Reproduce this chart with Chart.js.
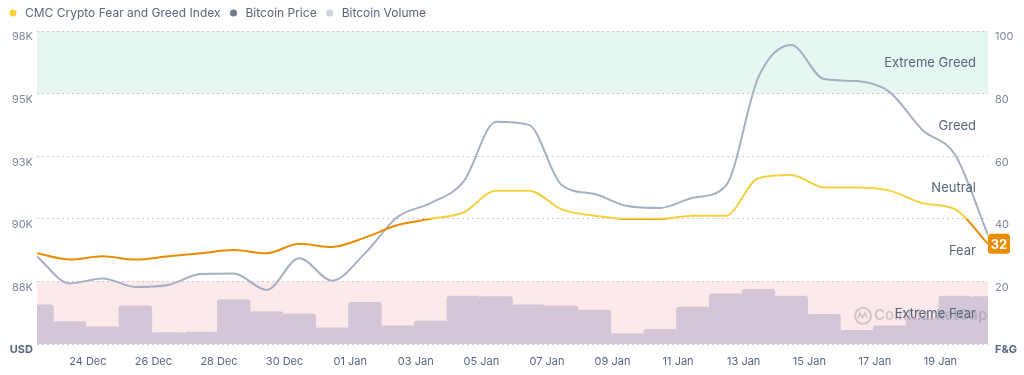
<!DOCTYPE html>
<html>
<head>
<meta charset="utf-8">
<script src="https://cdn.jsdelivr.net/npm/chart.js@4.4.1/dist/chart.umd.min.js"></script>
<style>
  html, body { margin: 0; padding: 0; background: #fff; }
  #wrap { width: 1024px; height: 375px; }
</style>
</head>
<body>
<div id="wrap"><canvas id="fgChart" width="1024" height="375"></canvas></div>
<script>
// Days on the x axis (one sample per day, 22 Dec -> 20 Jan)
const dayLabels = ["22 Dec", "23 Dec", "24 Dec", "25 Dec", "26 Dec", "27 Dec", "28 Dec", "29 Dec", "30 Dec", "31 Dec",
  "01 Jan", "02 Jan", "03 Jan", "04 Jan", "05 Jan", "06 Jan", "07 Jan", "08 Jan", "09 Jan", "10 Jan",
  "11 Jan", "12 Jan", "13 Jan", "14 Jan", "15 Jan", "16 Jan", "17 Jan", "18 Jan", "19 Jan", "20 Jan"];
const tickDays = [2, 4, 6, 8, 10, 12, 14, 16, 18, 20, 22, 24, 26, 28];
const sampleOffset = 0.45; // samples are taken late morning, not at midnight

const fearGreed = [29, 27, 28, 27, 28, 29, 30, 29, 32, 31, 34, 38, 40, 42, 49, 49, 43, 41, 40, 40,
  41, 41, 53, 54, 50, 50, 49, 45, 43, 32];
const btcPrice = [88890, 87820, 88020, 87680, 87760, 88200, 88220, 87560, 88820, 87930,
  89020, 90480, 91030, 91870, 94280, 94150, 91750, 91390, 90910, 90830,
  91240, 91710, 96060, 97340, 95980, 95900, 95460, 93950, 92950, 89750];
// volume in billions USD
const btcVolume = [75, 43, 33, 73, 22, 23, 85, 62, 58, 31, 80, 35, 44, 92, 91, 75, 73, 65, 20, 28,
  71, 96, 105, 92, 57, 26, 35, 49, 92, 91];

// sentiment zones on the F&G scale
const zoneNames = ["Extreme Fear", "Fear", "Neutral", "Greed", "Extreme Greed"];
const zoneBounds = [0, 20, 40, 60, 80, 100];

const YELLOW = "#f3d23e";
const ORANGE = "#ea8c00";
const PRICE_LINE = "#a6b0c3";
const VOLUME_BAR = "#d3c6d6";
const TEXT = "#58667e";
const FONT = "Inter, 'Noto Sans', sans-serif";

const points = (arr) => arr.map((v, i) => ({ x: i + sampleOffset, y: v }));

// make the legend block a bit taller so the plot starts lower
const legendSpacer = {
  id: "legendSpacer",
  beforeInit(chart) {
    const fit = chart.legend.fit;
    chart.legend.fit = function () {
      fit.call(this);
      this.height += 2;
    };
  }
};

// green / red zones behind everything
const zoneBands = {
  id: "zoneBands",
  beforeDraw(chart) {
    const { ctx, chartArea } = chart;
    const y = chart.scales.yFg;
    ctx.save();
    ctx.fillStyle = "#e6f7f1";
    ctx.fillRect(chartArea.left, y.getPixelForValue(100), chartArea.width, y.getPixelForValue(80) - y.getPixelForValue(100));
    ctx.fillStyle = "#fde9ea";
    ctx.fillRect(chartArea.left, y.getPixelForValue(20), chartArea.width, y.getPixelForValue(0) - y.getPixelForValue(20));
    ctx.restore();
  }
};

// watermark, zone names and the current value badge
const overlays = {
  id: "overlays",
  afterDatasetsDraw(chart) {
    const { ctx, chartArea } = chart;
    const y = chart.scales.yFg;
    ctx.save();

    // faint CoinMarketCap mark
    const wy = y.getPixelForValue(9);
    const cx = chartArea.right - 125;
    ctx.globalAlpha = 0.35;
    ctx.strokeStyle = "#7f7f90";
    ctx.lineWidth = 2;
    ctx.beginPath();
    ctx.arc(cx, wy, 8, 0, Math.PI * 2);
    ctx.stroke();
    ctx.lineWidth = 1.6;
    ctx.beginPath();
    ctx.moveTo(cx - 5, wy + 3);
    ctx.lineTo(cx - 3, wy - 3);
    ctx.lineTo(cx - 0.5, wy + 2);
    ctx.lineTo(cx + 2, wy - 3);
    ctx.lineTo(cx + 4, wy + 2);
    ctx.stroke();
    ctx.fillStyle = "#7f7f90";
    ctx.font = "600 15px " + FONT;
    ctx.textAlign = "left";
    ctx.textBaseline = "middle";
    ctx.fillText("CoinMarketCap", chartArea.right - 114, wy);
    ctx.globalAlpha = 1;

    ctx.fillStyle = TEXT;
    ctx.font = "13px " + FONT;
    ctx.textAlign = "right";
    zoneNames.forEach((name, i) => {
      const mid = (zoneBounds[i] + zoneBounds[i + 1]) / 2;
      ctx.fillText(name, chartArea.right - 12, y.getPixelForValue(mid) + 1);
    });

    // badge with the latest index value
    const meta = chart.getDatasetMeta(0);
    const last = meta.data[meta.data.length - 1];
    const bx = last.x, by = last.y;
    ctx.fillStyle = ORANGE;
    ctx.beginPath();
    ctx.roundRect(bx, by - 10, 22, 20, 3);
    ctx.fill();
    ctx.fillStyle = "#fff";
    ctx.font = "bold 13px " + FONT;
    ctx.textAlign = "center";
    ctx.fillText(String(fearGreed[fearGreed.length - 1]), bx + 11, by + 1);
    ctx.restore();
  }
};

const legendColors = [YELLOW, "#707b90", "#cfd5e0"];

const fgLineColor = (c) => {
  const chart = c.chart;
  const area = chart.chartArea;
  if (!area) return YELLOW;
  const y40 = chart.scales.yFg.getPixelForValue(40);
  const t = Math.min(1, Math.max(0, (y40 - area.top) / (area.bottom - area.top)));
  const g = chart.ctx.createLinearGradient(0, area.top, 0, area.bottom);
  g.addColorStop(0, YELLOW);
  g.addColorStop(t, YELLOW);
  g.addColorStop(t, ORANGE);
  g.addColorStop(1, ORANGE);
  return g;
};

new Chart(document.getElementById("fgChart"), {
  data: {
    datasets: [
      {
        type: "line",
        label: "CMC Crypto Fear and Greed Index",
        data: points(fearGreed),
        yAxisID: "yFg",
        borderColor: fgLineColor,
        backgroundColor: YELLOW,
        borderWidth: 2,
        pointRadius: 0,
        cubicInterpolationMode: "monotone"
      },
      {
        type: "line",
        label: "Bitcoin Price",
        data: points(btcPrice),
        yAxisID: "yPrice",
        borderColor: PRICE_LINE,
        backgroundColor: PRICE_LINE,
        borderWidth: 2,
        pointRadius: 0,
        cubicInterpolationMode: "monotone"
      },
      {
        type: "bar",
        label: "Bitcoin Volume",
        data: points(btcVolume),
        yAxisID: "yVol",
        backgroundColor: VOLUME_BAR,
        barPercentage: 1,
        categoryPercentage: 1,
        borderRadius: { topLeft: 3, topRight: 3 },
        borderSkipped: "start",
        clip: 0
      }
    ]
  },
  options: {
    responsive: false,
    animation: false,
    layout: { padding: 0 },
    plugins: {
      tooltip: { enabled: false },
      legend: {
        align: "start",
        labels: {
          usePointStyle: true,
          pointStyle: "circle",
          boxWidth: 12,
          boxHeight: 5,
          padding: 7,
          color: TEXT,
          font: { family: FONT, size: 12 },
          generateLabels(chart) {
            const items = Chart.defaults.plugins.legend.labels.generateLabels(chart);
            items.forEach((it, i) => {
              it.fillStyle = legendColors[i];
              it.strokeStyle = legendColors[i];
              it.lineWidth = 0;
              it.pointStyle = "circle";
            });
            return items;
          }
        }
      }
    },
    scales: {
      x: {
        type: "linear",
        offset: false,
        min: sampleOffset,
        max: fearGreed.length - 1 + sampleOffset,
        grid: { display: false, drawTicks: false, offset: false },
        border: { display: false },
        afterBuildTicks(scale) {
          scale.ticks = tickDays.map((d) => ({ value: d }));
        },
        afterFit(scale) { scale.height = 31; },
        ticks: {
          autoSkip: false,
          maxRotation: 0,
          padding: 11,
          color: TEXT,
          font: { family: FONT, size: 11 },
          callback: (v) => dayLabels[v]
        }
      },
      yPrice: {
        position: "left",
        min: 85400,
        max: 97900,
        grid: { display: false, drawTicks: false },
        border: { display: false },
        afterFit(scale) { scale.width = 37; },
        ticks: {
          stepSize: 2500,
          padding: 4,
          labelOffset: 6,
          color: (c) => (c.tick && c.tick.value === 85400 ? TEXT : "#7d879a"),
          font: (c) => ({ family: FONT, size: 11, weight: c.tick && c.tick.value === 85400 ? "bold" : "normal" }),
          callback: (v) => (v === 85400 ? "USD" : Math.round(v / 1000) + "K")
        }
      },
      yFg: {
        position: "right",
        min: 0,
        max: 100,
        grid: { color: "#c5cad3", drawTicks: false, lineWidth: 1 },
        border: { display: false, dash: [2, 3] },
        afterFit(scale) { scale.width = 36; },
        ticks: {
          stepSize: 20,
          padding: 7,
          labelOffset: 6,
          color: (c) => (c.tick && c.tick.value === 0 ? TEXT : "#7d879a"),
          font: (c) => ({ family: FONT, size: 11, weight: c.tick && c.tick.value === 0 ? "bold" : "normal" }),
          callback: (v) => (v === 0 ? "F&G" : v)
        }
      },
      yVol: {
        display: false,
        min: 0,
        max: 600
      }
    }
  },
  plugins: [legendSpacer, zoneBands, overlays]
});
</script>
</body>
</html>
